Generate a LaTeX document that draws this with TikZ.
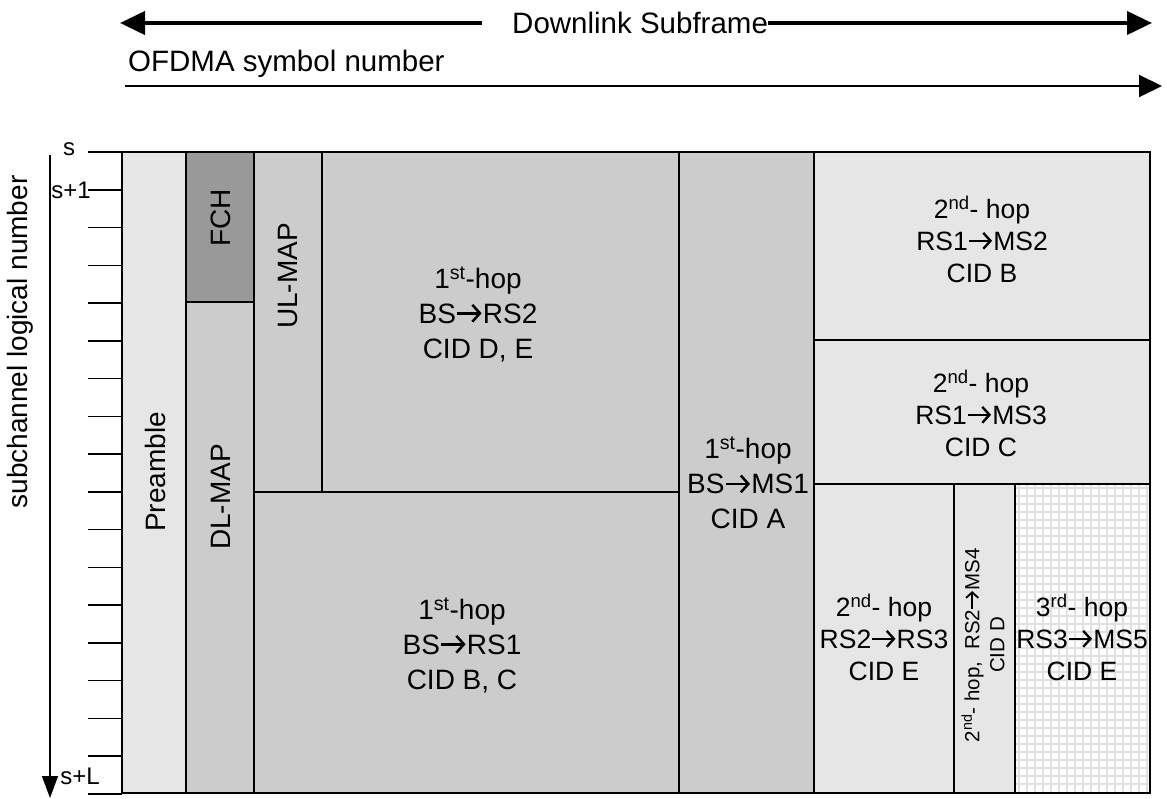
\documentclass[tikz,border=0pt]{standalone}
\usepackage{fontspec}
\setmainfont{Liberation Sans}
\usetikzlibrary{arrows.meta}
\definecolor{lightg}{HTML}{E6E6E6}
\definecolor{midg}{HTML}{CCCCCC}
\definecolor{darkg}{HTML}{999999}
\definecolor{gridg}{HTML}{E0E0E0}
\newcommand{\rarr}{\tikz[baseline=0pt,x=1em,y=1em]\draw[line width=0.09em,line cap=butt,-{Straight Barb[length=0.27em,width=0.6em]}] (0.03,0.35) -- (0.9,0.35);}
\begin{document}
\begin{tikzpicture}[x=1pt,y=-1pt,
  blk/.style={draw=black,line width=1.5pt},
  txt/.style={font=\fontsize{28}{35}\selectfont,align=center,inner sep=0pt},
  toptxt/.style={font=\fontsize{29.5}{35}\selectfont,inner sep=0pt},
  txtb/.style={font=\fontsize{26.5}{32}\selectfont,align=center,inner sep=0pt},
  rtxt/.style={font=\fontsize{28}{34}\selectfont,rotate=90,inner sep=0pt},
  smtxt/.style={font=\fontsize{20.5}{25}\selectfont,rotate=90,align=center,inner sep=0pt},
  axlbl/.style={font=\fontsize{24}{28}\selectfont,inner sep=0pt},
  tickln/.style={line width=1.5pt},
  gridln/.style={draw=gridg,line width=2pt},
  bigarrow/.style={line width=4pt,-{Triangle[length=25pt,width=23pt]}},
  midarrow/.style={line width=2pt,-{Triangle[length=23pt,width=22pt]}},
  axarrow/.style={line width=1.5pt,-{Triangle[length=22pt,width=16pt]}}
]
\useasboundingbox (0,0) rectangle (1167,799);

% top arrows
\node[toptxt,anchor=west] (dl) at (512,23) {Downlink Subframe};
\coordinate (dlL) at (120,23);
\coordinate (dlR) at (1152,23);
\draw[bigarrow] ([xshift=-30pt]dl.west) -- (dlL);
\draw[bigarrow] (dl.east) -- (dlR);

\node[toptxt,anchor=base west] (ofdma) at (128,72) {OFDMA symbol number};
\coordinate (oL) at (125,86);
\coordinate (oR) at (1162,86);
\draw[midarrow] (oL) -- (oR);

% vertical axis
\coordinate (axT) at (50,155);
\coordinate (axB) at (50,798);
\draw[axarrow] (axT) -- (axB);
\node[rtxt] (axl) at (20,342) {subchannel logical number};
\foreach \k in {0,...,17}
  \draw[tickln] (88,{152+\k*37.765}) -- (122,{152+\k*37.765});
\node[axlbl] (ls) at (69,149) {s};
\node[axlbl] (ls1) at (71,190) {s+1};
\node[axlbl] (lsl) at (80,776) {s+L};

% blocks
\draw[blk,fill=lightg] (122,152) rectangle (186,793);
\draw[blk,fill=darkg] (186,152) rectangle (254,302);
\draw[blk,fill=midg] (186,302) rectangle (254,793);
\draw[blk,fill=midg] (254,152) rectangle (322,492);
\draw[blk,fill=midg] (322,152) rectangle (679,492);
\draw[blk,fill=midg] (254,492) rectangle (679,793);
\draw[blk,fill=midg] (679,152) rectangle (814,793);
\draw[blk,fill=lightg] (814,152) rectangle (1150,340);
\draw[blk,fill=lightg] (814,340) rectangle (1150,484);
\draw[blk,fill=lightg] (814,484) rectangle (954,793);
\draw[blk,fill=lightg] (954,484) rectangle (1015,793);
\fill[white] (1015,484) rectangle (1150,793);
\foreach \gx in {1019,1027,...,1147} \draw[gridln] (\gx,485) -- (\gx,792);
\foreach \gy in {488,496,...,790} \draw[gridln] (1016,\gy) -- (1149,\gy);
\draw[blk] (1015,484) rectangle (1150,793);

% labels
\node[rtxt] (pre) at (155,472) {Preamble};
\node[rtxt] (fch) at (221,218) {FCH};
\node[rtxt] (dlmap) at (221,497) {DL-MAP};
\node[rtxt] (ulmap) at (288,276) {UL-MAP};

\node[txt] (h1) at (478,314) {1\textsuperscript{st}-hop\\BS\rarr RS2\\CID D, E};
\node[txt] (h2) at (462,645) {1\textsuperscript{st}-hop\\BS\rarr RS1\\CID B, C};
\node[txt] (h3) at (748,483) {1\textsuperscript{st}-hop\\BS\rarr MS1\\CID A};
\node[txtb] (h4) at (982,239) {2\textsuperscript{nd}- hop\\RS1\rarr MS2\\CID B};
\node[txtb] (h5) at (981,413) {2\textsuperscript{nd}- hop\\RS1\rarr MS3\\CID C};
\node[txtb] (h6) at (884,637) {2\textsuperscript{nd}- hop\\RS2\rarr RS3\\CID E};
\node[txtb] (h7) at (1082,637) {3\textsuperscript{rd}- hop\\RS3\rarr MS5\\CID E};
\node[smtxt] (h8) at (983,645) {2\textsuperscript{nd}- hop,\hspace{12pt}RS2\rarr MS4\\CID D};
\end{tikzpicture}
\end{document}
